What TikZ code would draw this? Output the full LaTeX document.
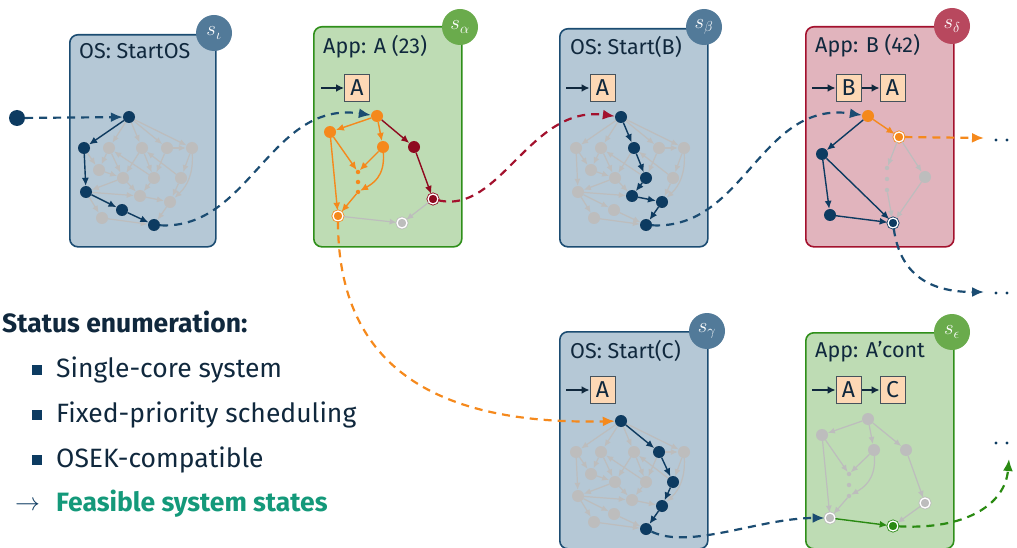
\documentclass[tikz,border=0pt]{standalone}
\usepackage{fontspec}
\setmainfont{Fira Sans}
\usetikzlibrary{arrows.meta}
\definecolor{dkblue}{HTML}{0D3B61}
\definecolor{osfill}{HTML}{B5C8D6}
\definecolor{osdraw}{HTML}{1B4C72}
\definecolor{oscirc}{HTML}{527A99}
\definecolor{gfill}{HTML}{BEDCB4}
\definecolor{gdraw}{HTML}{2F8F1A}
\definecolor{gcirc}{HTML}{6AAB4C}
\definecolor{rfill}{HTML}{E1B4BD}
\definecolor{rdraw}{HTML}{A3112D}
\definecolor{rcirc}{HTML}{B8485E}
\definecolor{orng}{HTML}{F5891C}
\definecolor{dred}{HTML}{8E0A1F}
\definecolor{gry}{HTML}{BDBDBD}
\definecolor{grn}{HTML}{2A8A12}
\definecolor{txt}{HTML}{10283D}
\definecolor{teal}{HTML}{14997A}
\definecolor{peach}{HTML}{FDD8B5}
\definecolor{qdraw}{HTML}{45525C}
\tikzset{
  box/.style={rounded corners=8pt, line width=1.6pt, anchor=north west, inner sep=0pt},
  osbox/.style={box, fill=osfill, draw=osdraw},
  appbox/.style={box, fill=gfill, draw=gdraw},
  redbox/.style={box, fill=rfill, draw=rdraw},
  scirc/.style={circle, minimum size=36pt, inner sep=0pt, text=white, font=\fontsize{21}{24}\selectfont},
  ttl/.style={anchor=base west, inner sep=0pt, text=txt, font=\fontsize{21.5}{24}\selectfont},
  qbox/.style={draw=qdraw, line width=1pt, fill=peach, minimum width=25pt, minimum height=27pt, inner sep=0pt, text=txt, font=\fontsize{23}{26}\selectfont},
  qarr/.style={line width=2pt, draw=txt, -{Latex[length=8pt,width=8pt]}},
  nd/.style={circle, minimum size=12pt, inner sep=0pt},
  gn/.style={nd, fill=gry},
  bn/.style={nd, fill=dkblue},
  on/.style={nd, fill=orng},
  rn/.style={nd, fill=dred},
  dotn/.style={circle, minimum size=4.5pt, inner sep=0pt},
  odbl/.style={nd, minimum size=10pt, fill=orng, draw=orng, double=white, double distance=1.3pt, line width=0.8pt},
  rdbl/.style={nd, minimum size=10pt, fill=dred, draw=dred, double=white, double distance=1.3pt, line width=0.8pt},
  bdbl/.style={nd, minimum size=10pt, fill=dkblue, draw=dkblue, double=white, double distance=1.3pt, line width=0.8pt},
  gndbl/.style={nd, minimum size=10pt, fill=grn, draw=grn, double=white, double distance=1.3pt, line width=0.8pt},
  gydbl/.style={nd, minimum size=10pt, fill=gry, draw=gry, double=white, double distance=1.3pt, line width=0.8pt},
  ge/.style={draw=gry, line width=1.2pt, -{Latex[length=7pt,width=6pt]}},
  he/.style={line width=1.4pt, -{Latex[length=8pt,width=7pt]}},
  conn/.style={line width=2.2pt, dash pattern=on 8pt off 6pt, -{Latex[length=12pt,width=10pt]}},
  ddot/.style={circle, fill=dkblue, minimum size=3.2pt, inner sep=0pt},
  leg/.style={anchor=base west, inner sep=0pt, text=txt, font=\fontsize{26.5}{30}\selectfont},
  bul/.style={fill=dkblue, minimum size=10pt, inner sep=0pt},
}
\newcommand\osgraph[3]{%
  \begin{scope}[shift={(#2,#3)}]
    \node[gn] (#1T) at (0,0) {};
    \node[gn] (#1a1) at (-45,31) {};
    \node[gn] (#1a2) at (-20,31) {};
    \node[gn] (#1a3) at (13,31) {};
    \node[gn] (#1a4) at (38,31) {};
    \node[gn] (#1a5) at (63,31) {};
    \node[gn] (#1b1) at (-30,53) {};
    \node[gn] (#1b2) at (-6,61) {};
    \node[gn] (#1b3) at (25,61) {};
    \node[gn] (#1b4) at (52,61) {};
    \node[gn] (#1c1) at (-43,75) {};
    \node[gn] (#1c2) at (11,79) {};
    \node[gn] (#1c3) at (41,85) {};
    \node[gn] (#1d1) at (-7,93) {};
    \node[gn] (#1d2) at (-27,101) {};
    \node[gn] (#1e) at (25,108) {};
  \end{scope}
  \foreach \u/\v in {T/a1,T/a2,T/a3,T/a4,T/a5,a1/b1,a1/c1,a2/b1,a2/b2,a3/b2,a3/b3,b3/a2,a4/b3,a4/a5,a5/b4,b4/a3,b1/b2,b2/c2,b3/c2,b4/c3,c1/c2,c1/d1,c1/d2,c2/c3,d1/e,d2/e,c3/e,b2/c1}
    {\draw[ge] (#1\u) -- (#1\v);}
  \draw[ge] (#1a5) to[bend left=25] (#1c3);
}
\begin{document}
\begin{tikzpicture}[x=1pt,y=-1pt]
\useasboundingbox (0,0) rectangle (1017,548);

% boxes
\node[osbox, minimum width=146pt, minimum height=212pt] (box1) at (69,34) {};
\node[appbox, minimum width=148pt, minimum height=220pt] (box2) at (313,26) {};
\node[osbox, minimum width=148pt, minimum height=218pt] (box3) at (559,28) {};
\node[redbox, minimum width=148pt, minimum height=220pt] (box4) at (805,26) {};
\node[osbox, minimum width=148pt, minimum height=217pt] (box5) at (559,331) {};
\node[appbox, minimum width=148pt, minimum height=216pt] (box6) at (805,332) {};

% titles
\node[ttl] (t1) at (79,59) {OS: StartOS};
\node[ttl] (t2) at (323,54) {App: A (23)};
\node[ttl] (t3) at (570,55) {OS: Start(B)};
\node[ttl] (t4) at (815,53) {App: B (42)};
\node[ttl] (t5) at (570,358) {OS: Start(C)};
\node[ttl] (t6) at (815,357) {App: A’cont};

% queues
\node[qbox] (q2a) at (357,88) {A};
\coordinate (q2in) at (321,88);
\draw[qarr] (q2in) -- (q2a);
\node[qbox] (q3a) at (602.5,88) {A};
\coordinate (q3in) at (566,88);
\draw[qarr] (q3in) -- (q3a);
\node[qbox] (q4b) at (848.5,88) {B};
\node[qbox] (q4a) at (892.5,88) {A};
\coordinate (q4in) at (812,88);
\draw[qarr] (q4in) -- (q4b);
\draw[qarr] (q4b) -- (q4a);
\node[qbox] (q5a) at (602.5,390) {A};
\coordinate (q5in) at (566,390);
\draw[qarr] (q5in) -- (q5a);
\node[qbox] (q6a) at (848.5,390) {A};
\node[qbox] (q6c) at (892.5,390) {C};
\coordinate (q6in) at (812,390);
\draw[qarr] (q6in) -- (q6a);
\draw[qarr] (q6a) -- (q6c);

% OS graphs
\osgraph{g1}{129}{117}
\osgraph{g3}{621}{117}
\osgraph{g5}{621}{421}
\foreach \n in {T,a1,c1,d1,e} {\node[bn] (g1h\n) at (g1\n) {};}
\foreach \u/\v in {T/a1,a1/c1,c1/d1,d1/e} {\draw[he, draw=dkblue] (g1\u) -- (g1\v);}
\foreach \n in {T,a3,b3,c2,c3,e} {\node[bn] (g3h\n) at (g3\n) {};}
\foreach \u/\v in {T/a3,a3/b3,b3/c2,c2/c3,c3/e} {\draw[he, draw=dkblue] (g3\u) -- (g3\v);}
\foreach \n in {T,a4,b4,c3,e} {\node[bn] (g5h\n) at (g5\n) {};}
\foreach \u/\v in {T/a4,a4/b4,b4/c3,c3/e} {\draw[he, draw=dkblue] (g5\u) -- (g5\v);}

% box 2 graph
\begin{scope}[shift={(377,116)}]
  \node[on] (p2t) at (0,0) {};
  \node[on] (p2l) at (-47,16) {};
  \node[on] (p2m) at (6,31) {};
  \node[rn] (p2r) at (37,31) {};
  \node[dotn, fill=orng] (p2d1) at (-19,56) {};
  \node[dotn, fill=orng] (p2d2) at (-19,66) {};
  \node[dotn, fill=orng] (p2d3) at (-19,76) {};
  \node[odbl] (p2bl) at (-39,100) {};
  \node[rdbl] (p2br) at (56,83) {};
  \node[gydbl] (p2bm) at (25,107) {};
\end{scope}
\foreach \u/\v in {t/l,t/m,l/d1,m/d1,d3/bl,l/bl} {\draw[he, draw=orng] (p2\u) -- (p2\v);}
\draw[he, draw=orng] (p2m) .. controls +(2,30) and +(14,-8) .. (p2d3);
\foreach \u/\v in {t/r,r/br} {\draw[he, draw=dred] (p2\u) -- (p2\v);}
\foreach \u/\v in {br/bm,bl/bm} {\draw[ge] (p2\u) -- (p2\v);}

% box 4 graph
\begin{scope}[shift={(868,116)}]
  \node[on] (p4t) at (0,0) {};
  \node[odbl] (p4od) at (31,21) {};
  \node[bn] (p4l) at (-46,38) {};
  \node[gn] (p4r) at (57,61) {};
  \node[dotn, fill=gry] (p4d1) at (19,52) {};
  \node[dotn, fill=gry] (p4d2) at (19,63) {};
  \node[dotn, fill=gry] (p4d3) at (19,74) {};
  \node[bn] (p4bl) at (-38,99) {};
  \node[bdbl] (p4bm) at (25,107) {};
\end{scope}
\draw[he, draw=orng] (p4t) -- (p4od);
\foreach \u/\v in {od/d1,od/r,r/bm,d3/bm} {\draw[ge] (p4\u) -- (p4\v);}
\foreach \u/\v in {t/l,l/bl,l/bm,bl/bm} {\draw[he, draw=dkblue] (p4\u) -- (p4\v);}

% box 6 graph
\begin{scope}[shift={(868,419)}]
  \node[gn] (p6t) at (0,0) {};
  \node[gn] (p6l) at (-46,16) {};
  \node[gn] (p6m) at (6,31) {};
  \node[gn] (p6r) at (38,31) {};
  \node[dotn, fill=gry] (p6d1) at (-19,55) {};
  \node[dotn, fill=gry] (p6d2) at (-19,66) {};
  \node[dotn, fill=gry] (p6d3) at (-19,77) {};
  \node[gydbl] (p6bl) at (-38,99) {};
  \node[gydbl] (p6br) at (57,84) {};
  \node[gndbl] (p6bm) at (25,107) {};
\end{scope}
\foreach \u/\v in {t/l,t/m,t/r,l/d1,m/d1,d3/bl,l/bl,r/br,br/bm} {\draw[ge] (p6\u) -- (p6\v);}
\draw[ge] (p6m) .. controls +(2,30) and +(14,-8) .. (p6d3);
\draw[he, draw=grn] (p6bl) -- (p6bm);

% dashed connectors
\node[circle, fill=dkblue, minimum size=16pt, inner sep=0pt] (start) at (17,118) {};
\draw[conn, draw=osdraw] (start) -- (g1T);
\draw[conn, draw=osdraw] (g1e) .. controls (250,230) and (270,100) .. (p2t);
\draw[conn, draw=rdraw] (p2br) .. controls (500,215) and (530,105) .. (g3T);
\draw[conn, draw=osdraw] (g3e) .. controls (745,230) and (760,100) .. (p4t);
\draw[conn, draw=orng] (p2bl) .. controls (338,370) and (440,425) .. (g5T);
\draw[conn, draw=osdraw] (g5e) .. controls (690,550) and (760,518) .. (p6bl);
\coordinate (o4a) at (984,138);
\coordinate (o4b) at (984,292);
\coordinate (o6) at (1009,459);
\draw[conn, draw=orng] (p4od) -- (o4a);
\draw[conn, draw=osdraw] (p4bm) .. controls (900,275) and (930,292) .. (o4b);
\draw[conn, draw=grn] (p6bm) .. controls (965,530) and (1005,505) .. (o6);
\node[ddot] (e1a) at (996,140) {};
\node[ddot] (e1b) at (1007,140) {};
\node[ddot] (e2a) at (996,293) {};
\node[ddot] (e2b) at (1007,293) {};
\node[ddot] (e3a) at (996,443) {};
\node[ddot] (e3b) at (1007,443) {};

% state circles
\node[scirc, fill=oscirc] (s1) at (214,33) {$s_\iota$};
\node[scirc, fill=gcirc] (s2) at (460,27) {$s_\alpha$};
\node[scirc, fill=oscirc] (s3) at (704,27) {$s_\beta$};
\node[scirc, fill=rcirc] (s4) at (952,26) {$s_\delta$};
\node[scirc, fill=oscirc] (s5) at (707,331) {$s_\gamma$};
\node[scirc, fill=gcirc] (s6) at (952,332) {$s_\epsilon$};

% legend
\node[leg, font=\bfseries\fontsize{26.5}{30}\selectfont] (lt) at (2,332) {Status enumeration:};
\node[bul] (b1) at (37,370) {};
\node[leg] (l1) at (56,377) {Single-core system};
\node[bul] (b2) at (37,415) {};
\node[leg] (l2) at (56,422) {Fixed-priority scheduling};
\node[bul] (b3) at (37,460) {};
\node[leg] (l3) at (56,467) {OSEK-compatible};
\node[leg, text=dkblue] (la) at (15,510) {$\rightarrow$};
\node[leg, text=teal, font=\bfseries\fontsize{26.5}{30}\selectfont] (l4) at (56,511) {Feasible system states};
\end{tikzpicture}
\end{document}
